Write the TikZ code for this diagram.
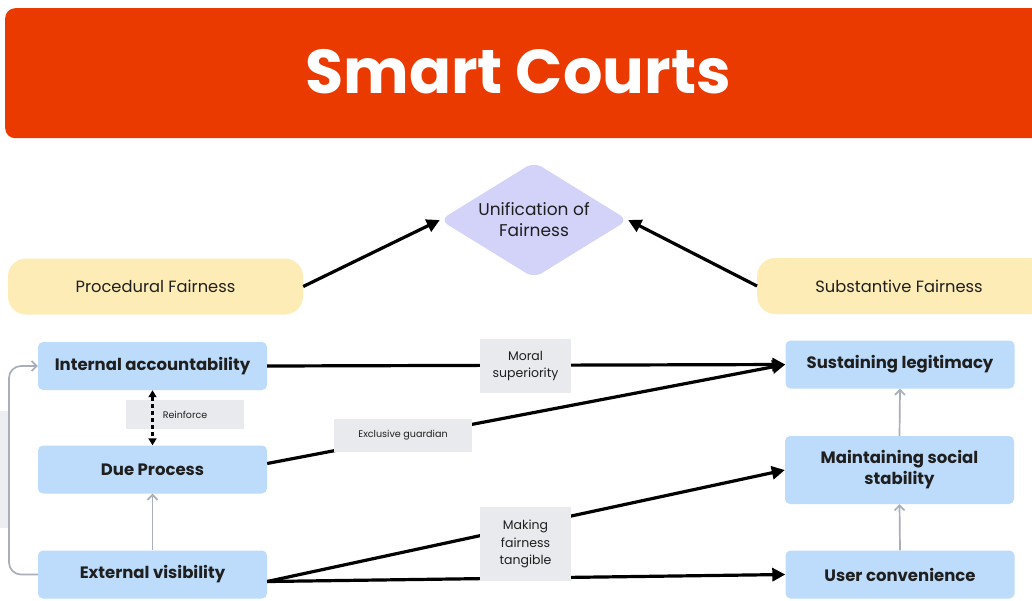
\documentclass[tikz,border=0pt]{standalone}
\usepackage{fontspec}
\setmainfont{Poppins}
\usetikzlibrary{arrows.meta,shapes.geometric}
\definecolor{titlered}{RGB}{234,58,0}
\definecolor{pillyellow}{RGB}{253,236,182}
\definecolor{lavender}{RGB}{211,211,250}
\definecolor{boxblue}{RGB}{189,220,251}
\definecolor{labelgrey}{RGB}{232,234,237}
\definecolor{faintgrey}{RGB}{236,238,241}
\definecolor{arrowgrey}{RGB}{168,175,184}
\definecolor{ink}{RGB}{31,31,31}
\tikzset{
  bluebox/.style={rectangle, rounded corners=5pt, fill=boxblue, minimum width=229pt, minimum height=48pt, inner sep=0pt, align=center, text=ink, font=\fontsize{16.5}{21}\selectfont\bfseries},
  pill/.style={rectangle, rounded corners=18pt, fill=pillyellow, minimum height=56pt, inner sep=0pt, text=ink, font=\fontsize{16.3}{18}\selectfont},
  lbl/.style={rectangle, fill=labelgrey, inner sep=0pt, align=center, text=ink},
  mainarrow/.style={line width=3.2pt, -{Triangle[length=13pt,width=13pt]}, black},
  greyarrow/.style={line width=1.7pt, arrowgrey, -{Straight Barb[length=5pt,width=10pt]}},
}
\begin{document}
\begin{tikzpicture}[x=1pt,y=-1pt]
\useasboundingbox (0,0) rectangle (1032,600);
\fill[white] (0,0) rectangle (1032,600);
% title bar
\node[rectangle, rounded corners=10pt, fill=titlered, minimum width=1040pt, minimum height=130pt, anchor=north west, inner sep=0pt] (bar) at (5,8) {};
\node[text=white, font=\fontsize{62}{70}\selectfont\bfseries] (title) at (518,72) {Smart Courts};
% top level
\node[diamond, aspect=1.62, rounded corners=9pt, fill=lavender, minimum width=188pt, minimum height=116pt, inner sep=0pt, align=center, text=ink, font=\fontsize{17}{21}\selectfont] (uni) at (534,220) {Unification of\\Fairness};
\node[pill, minimum width=295pt] (pf) at (155.5,286.5) {Procedural Fairness};
\node[pill, minimum width=290pt, anchor=west] (sfbox) at (757,286) {};
\node[text=ink, font=\fontsize{16.3}{18}\selectfont] (sf) at (899,286) {Substantive Fairness};
\draw[mainarrow] (pf.east) -- (uni.west);
\draw[mainarrow] (sfbox.west) -- (uni.east);
% faint partial box at left edge
\fill[faintgrey] (0,411) rectangle (9,528);
% left column
\node[bluebox] (ia) at (152.5,366) {Internal accountability};
\node[bluebox] (dp) at (152.5,469.5) {Due Process};
\node[bluebox] (ev) at (152.5,574.5) {External visibility};
% right column
\node[bluebox] (sl) at (900,364.5) {Sustaining legitimacy};
\node[bluebox, minimum height=68pt] (ms) at (899.5,470) {Maintaining social\\stability};
\node[bluebox] (uc) at (900,574.5) {User convenience};
% grey connectors
\draw[greyarrow] (ev.north) -- (dp.south);
\draw[greyarrow, rounded corners=12pt] (ev.west) -- (9,574.5) -- (9,366) -- (ia.west);
\draw[greyarrow] (uc.north) -- (ms.south);
\draw[greyarrow] (ms.north) -- (sl.south);
% reinforce
\node[lbl, minimum width=118pt, minimum height=29pt, font=\fontsize{9.5}{11}\selectfont] (rf) at (185,414.5) {Reinforce};
\draw[line width=2.2pt, dash pattern=on 4.5pt off 2.5pt, {Triangle[length=7pt,width=8pt]}-{Triangle[length=7pt,width=8pt]}] (ia.south) -- (dp.north);
% main connectors
\draw[mainarrow] (ia.east) -- (sl.west);
\draw[mainarrow] ([yshift=6pt]dp.east) -- (sl.west);
\draw[mainarrow] ([yshift=-7pt]ev.east) -- (ms.west);
\draw[mainarrow] ([yshift=-7pt]ev.east) -- (uc.west);
% labels on connectors
\node[lbl, minimum width=91pt, minimum height=54pt, font=\fontsize{12.5}{17}\selectfont] (ms1) at (525.5,366) {Moral\\superiority};
\node[lbl, minimum width=138pt, minimum height=33pt, font=\fontsize{9.6}{12}\selectfont] (eg) at (403,435.5) {Exclusive guardian};
\node[lbl, minimum width=91pt, minimum height=74pt, font=\fontsize{12.5}{17.5}\selectfont] (mf) at (525.5,544) {Making\\fairness\\tangible};
\end{tikzpicture}
\end{document}
